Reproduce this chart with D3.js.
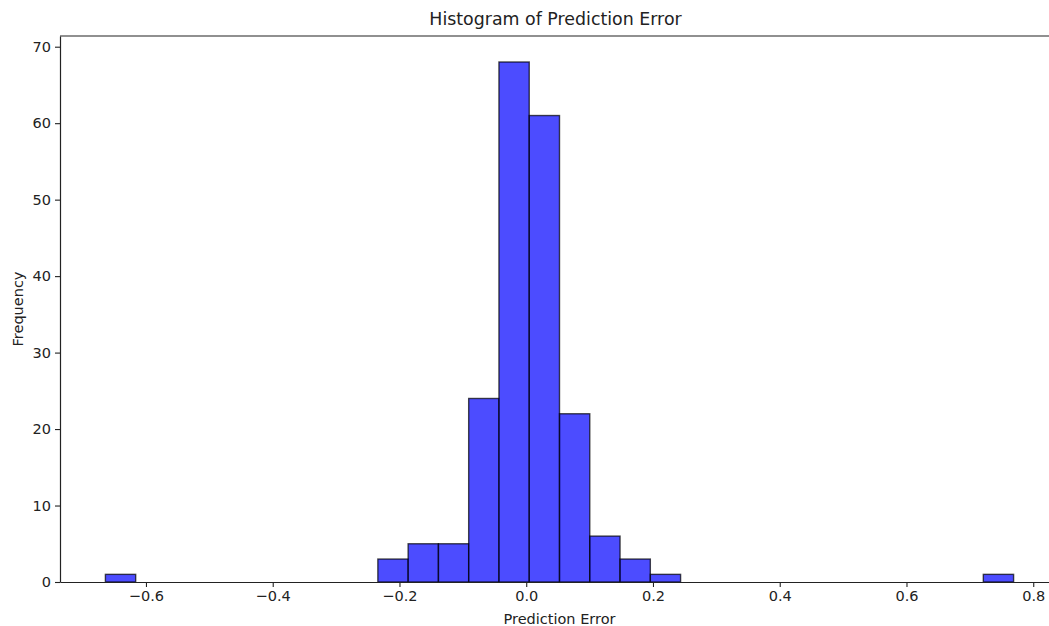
<!DOCTYPE html>
<html>
<head>
<meta charset="utf-8">
<script src="https://cdn.jsdelivr.net/npm/d3@7"></script>
<style>
  html, body { margin: 0; padding: 0; background: #fff; }
  svg { display: block; font-family: 'DejaVu Sans', sans-serif; }
</style>
</head>
<body>
<div id="chart"></div>
<script>
// histogram: 30 equal bins between the min and max error
const errorRange = [-0.664, 0.769];
const binCounts = [
  1, 0, 0, 0, 0, 0, 0, 0, 0, 3,
  5, 5, 24, 68, 61, 22, 6, 3, 1, 0,
  0, 0, 0, 0, 0, 0, 0, 0, 0, 1
];
const xTicks = [-0.6, -0.4, -0.2, 0.0, 0.2, 0.4, 0.6, 0.8];
const yTicks = [0, 10, 20, 30, 40, 50, 60, 70];

const width = 1049, height = 626;
const margin = { top: 36, right: -10, bottom: 44, left: 60 };

const svg = d3.select('#chart').append('svg')
  .attr('width', width)
  .attr('height', height);

const binWidth = (errorRange[1] - errorRange[0]) / binCounts.length;
const bins = binCounts.map((c, i) => ({
  x0: errorRange[0] + i * binWidth,
  x1: errorRange[0] + (i + 1) * binWidth,
  count: c
}));

const pad = (errorRange[1] - errorRange[0]) * 0.05;
const x = d3.scaleLinear()
  .domain([errorRange[0] - pad, errorRange[1] + pad])
  .range([margin.left, width - margin.right]);
const y = d3.scaleLinear()
  .domain([0, d3.max(binCounts) * 1.05])
  .range([height - margin.bottom, margin.top]);

const fmt = d3.format('.1f');

// bars (zero-height bins still leave an edge on the baseline)
svg.append('g')
  .selectAll('rect')
  .data(bins)
  .enter().append('rect')
  .attr('x', d => x(d.x0))
  .attr('y', d => y(d.count))
  .attr('width', d => x(d.x1) - x(d.x0))
  .attr('height', d => y(0) - y(d.count))
  .attr('fill', 'blue')
  .attr('fill-opacity', 0.7)
  .attr('stroke', 'black')
  .attr('stroke-opacity', 0.7)
  .attr('stroke-width', 1.4);

// axes
const xAxis = svg.append('g')
  .attr('transform', `translate(0,${height - margin.bottom})`)
  .call(d3.axisBottom(x).tickValues(xTicks).tickFormat(fmt).tickSize(5).tickPadding(4).tickSizeOuter(0));
const yAxis = svg.append('g')
  .attr('transform', `translate(${margin.left},0)`)
  .call(d3.axisLeft(y).tickValues(yTicks).tickSize(5).tickPadding(4).tickSizeOuter(0));

[xAxis, yAxis].forEach(a => {
  a.selectAll('text').attr('font-size', 14.5).attr('fill', '#222').attr('font-family', 'DejaVu Sans');
  a.selectAll('line').attr('stroke', '#222').attr('stroke-width', 1.1);
  a.select('.domain').attr('stroke', '#222').attr('stroke-width', 1.2);
});

// top spine (right one falls outside the picture)
svg.append('line')
  .attr('x1', x.range()[0]).attr('x2', x.range()[1])
  .attr('y1', margin.top).attr('y2', margin.top)
  .attr('stroke', '#222').attr('stroke-width', 1.2);

const cx = (x.range()[0] + x.range()[1]) / 2;

svg.append('text')
  .attr('x', cx - 4)
  .attr('y', 25)
  .attr('text-anchor', 'middle')
  .attr('font-size', 17.4)
  .attr('fill', '#222')
  .text('Histogram of Prediction Error');

svg.append('text')
  .attr('x', cx)
  .attr('y', 624)
  .attr('text-anchor', 'middle')
  .attr('font-size', 14.5)
  .attr('fill', '#222')
  .text('Prediction Error');

svg.append('text')
  .attr('transform', `translate(23,${(margin.top + height - margin.bottom) / 2}) rotate(-90)`)
  .attr('text-anchor', 'middle')
  .attr('font-size', 14.5)
  .attr('fill', '#222')
  .text('Frequency');
</script>
</body>
</html>
